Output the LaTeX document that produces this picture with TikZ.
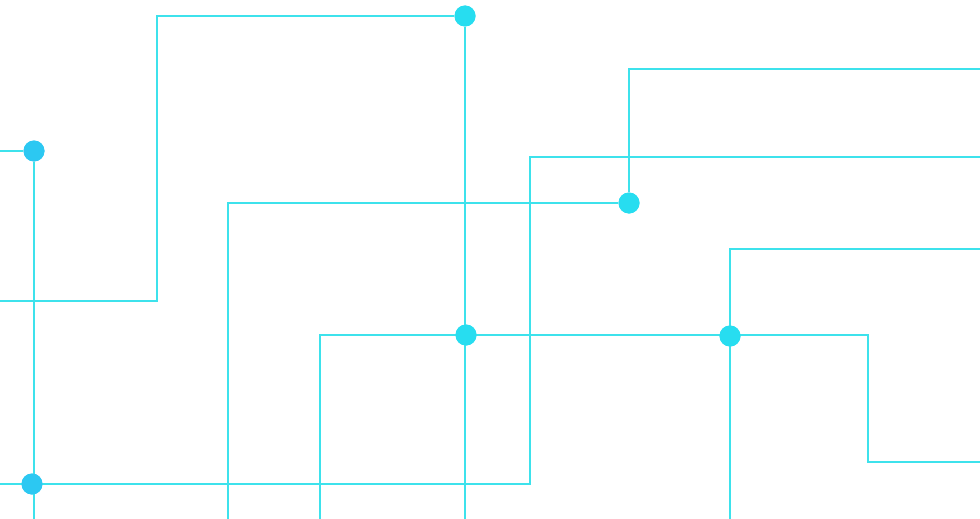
\documentclass[tikz,border=0pt]{standalone}
\definecolor{traceCyan}{HTML}{3DE2EC}
\definecolor{padCyan}{HTML}{27DDF0}
\definecolor{padBlue}{HTML}{2CC8F2}
\tikzset{
  trace/.style={draw=traceCyan, line width=1.6pt},
  pad/.style={circle, fill=padCyan, inner sep=0pt, minimum size=21pt},
  padb/.style={pad, fill=padBlue}
}
\begin{document}
\begin{tikzpicture}[x=1pt,y=-1pt]
  \useasboundingbox (0,0) rectangle (980,519);
  % pads
  \node[pad] (pTop) at (465,16) {};
  \node[padb] (pLeft) at (34,151) {};
  \node[padb] (pLow) at (32,484) {};
  \node[pad] (pMid) at (629,203) {};
  \node[pad] (pCross) at (466,335) {};
  \node[pad] (pRight) at (730,336) {};
  % free ends
  \coordinate (eA) at (0,301);
  \coordinate (eB) at (0,151);
  \coordinate (eC) at (0,484);
  \coordinate (eD) at (980,157);
  \coordinate (eE) at (980,69);
  \coordinate (eF) at (228,519);
  \coordinate (eG) at (320,519);
  \coordinate (eH) at (980,462);
  \coordinate (eI) at (730,519);
  \coordinate (eJ) at (980,249);
  \coordinate (eK) at (465,519);
  \coordinate (eL) at (34,519);
  % traces
  \draw[trace] (eA) -- (157,301) |- (pTop);
  \draw[trace] (pTop) -- (eK);
  \draw[trace] (eB) -- (pLeft) -- (eL);
  \draw[trace] (eC) -- (530,484) |- (eD);
  \draw[trace] (eE) -| (pMid);
  \draw[trace] (eF) |- (pMid);
  \draw[trace] (eG) |- (868,335) |- (eH);
  \draw[trace] (eI) |- (eJ);
  % pads on top
  \foreach \p in {pTop,pMid,pCross,pRight} \fill[padCyan] (\p) circle (10.5pt);
  \foreach \p in {pLeft,pLow} \fill[padBlue] (\p) circle (10.5pt);
\end{tikzpicture}
\end{document}
